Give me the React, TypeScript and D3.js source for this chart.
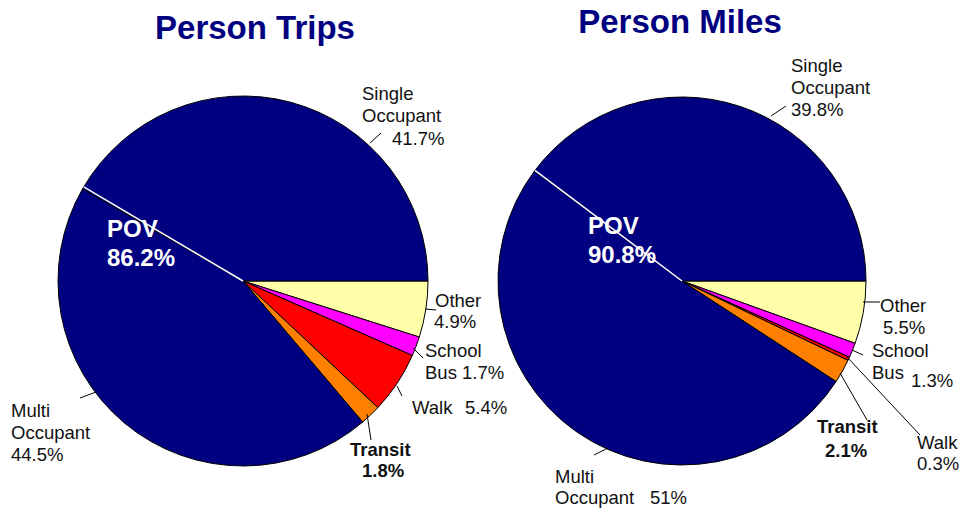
import React from "react";
import * as d3 from "d3";

const W = 959;
const H = 511;

// slice order, clockwise from 3 o'clock
const modes = ["Other", "School Bus", "Walk", "Transit", "Multi Occupant", "Single Occupant"];
const tripShares = [4.9, 1.7, 5.4, 1.8, 44.5, 41.7];
const mileShares = [5.5, 1.3, 0.3, 2.1, 51, 39.8];
const povShares = [86.2, 90.8];
const chartTitles = ["Person Trips", "Person Miles"];

const modeColors = ["#ffffaa", "#ff00ff", "#ff0000", "#ff8000", "#000080", "#000080"];

type Line = { t: string; x: number; y: number };
type Label = { lines: Line[]; bold?: boolean; leader: [number, number, number, number] };

// label layout for each mode (text built from the values)
const tripLayout = (v: number[]): Label[] => [
  { lines: [{ t: "Other", x: 435, y: 307 }, { t: `${v[0]}%`, x: 434, y: 328 }], leader: [425, 309, 436, 310] },
  { lines: [{ t: "School", x: 425, y: 357 }, { t: "Bus", x: 425, y: 379 }, { t: `${v[1]}%`, x: 462, y: 379 }], leader: [413, 348, 423, 358] },
  { lines: [{ t: "Walk", x: 412, y: 414 }, { t: `${v[2]}%`, x: 465, y: 414 }], leader: [397, 386, 402, 396] },
  { lines: [{ t: "Transit", x: 350, y: 456 }, { t: `${v[3]}%`, x: 362, y: 477 }], bold: true, leader: [367, 414, 371, 440] },
  { lines: [{ t: "Multi", x: 11, y: 417 }, { t: "Occupant", x: 11, y: 439 }, { t: `${v[4]}%`, x: 11, y: 461 }], leader: [96, 392, 80, 398] },
  { lines: [{ t: "Single", x: 362, y: 100 }, { t: "Occupant", x: 362, y: 122 }, { t: `${v[5]}%`, x: 392, y: 145 }], leader: [370, 143, 381, 133] },
];

const mileLayout = (v: number[]): Label[] => [
  { lines: [{ t: "Other", x: 880, y: 312 }, { t: `${v[0]}%`, x: 883, y: 334 }], leader: [863, 302, 880, 302] },
  { lines: [{ t: "School", x: 872, y: 357 }, { t: "Bus", x: 872, y: 379 }, { t: `${v[1]}%`, x: 911, y: 387 }], leader: [852, 350, 863, 355] },
  { lines: [{ t: "Walk", x: 917, y: 449 }, { t: `${v[2]}%`, x: 917, y: 470 }], leader: [847, 357, 920, 435] },
  { lines: [{ t: "Transit", x: 817, y: 433 }, { t: `${v[3]}%`, x: 825, y: 457 }], bold: true, leader: [840, 373, 867, 420] },
  { lines: [{ t: "Multi", x: 555, y: 483 }, { t: "Occupant", x: 555, y: 504 }, { t: `${v[4]}%`, x: 650, y: 504 }], leader: [608, 448, 594, 455] },
  { lines: [{ t: "Single", x: 791, y: 72 }, { t: "Occupant", x: 791, y: 94 }, { t: `${v[5]}%`, x: 791, y: 116 }], leader: [771, 116, 786, 106] },
];

const charts = [
  { title: chartTitles[0], values: tripShares, pov: povShares[0], cx: 243, cy: 281, r: 185, titleX: 255, titleY: 39, povX: 107, povY: 237, sepOffset: 0.012, labels: tripLayout(tripShares) },
  { title: chartTitles[1], values: mileShares, pov: povShares[1], cx: 682, cy: 281, r: 184, titleX: 680, titleY: 33, povX: 588, povY: 234, sepOffset: 0.004, labels: mileLayout(mileShares) },
];

const FONT = "'Liberation Sans', Arial, Helvetica, sans-serif";

const PieChart = ({ c }: { c: (typeof charts)[number] }) => {
  const data = modes.map((m, i) => ({ mode: m, value: c.values[i], color: modeColors[i] }));
  const pie = d3
    .pie<{ mode: string; value: number; color: string }>()
    .sort(null)
    .value((d) => d.value)
    .startAngle(Math.PI / 2)
    .endAngle(Math.PI / 2 + 2 * Math.PI);
  const arcs = pie(data);
  const arc = d3.arc<d3.PieArcDatum<any>>().innerRadius(0).outerRadius(c.r);

  // white separator between multi and single occupant
  const sepA = arcs[4].endAngle + c.sepOffset;
  const sx = Math.sin(sepA) * c.r;
  const sy = -Math.cos(sepA) * c.r;

  return (
    <g>
      <text x={c.titleX} y={c.titleY} textAnchor="middle" fontFamily={FONT} fontWeight="bold" fontSize={33} fill="#000080">
        {c.title}
      </text>
      <g transform={`translate(${c.cx},${c.cy})`}>
        {arcs.map((a, i) => (
          <path key={i} d={arc(a) || ""} fill={a.data.color} stroke="#000" strokeWidth={1} strokeLinejoin="round" />
        ))}
        <line x1={0} y1={0} x2={sx} y2={sy} stroke="#fff" strokeWidth={1.5} />
      </g>
      <text fontFamily={FONT} fontWeight="bold" fontSize={24} fill="#fff">
        <tspan x={c.povX} y={c.povY}>POV</tspan>
        <tspan x={c.povX} y={c.povY + 29}>{`${c.pov}%`}</tspan>
      </text>
      {c.labels.map((l, i) => (
        <g key={i}>
          <line x1={l.leader[0]} y1={l.leader[1]} x2={l.leader[2]} y2={l.leader[3]} stroke="#000" strokeWidth={1} />
          {l.lines.map((ln, j) => (
            <text key={j} x={ln.x} y={ln.y} fontFamily={FONT} fontSize={18.5} fontWeight={l.bold ? "bold" : "normal"} fill="#111">
              {ln.t}
            </text>
          ))}
        </g>
      ))}
    </g>
  );
};

export default function App() {
  return (
    <svg width={W} height={H} style={{ position: "absolute", left: 0, top: 0, background: "#fff" }}>
      <rect width={W} height={H} fill="#fff" />
      {charts.map((c, i) => (
        <PieChart key={i} c={c} />
      ))}
    </svg>
  );
}
